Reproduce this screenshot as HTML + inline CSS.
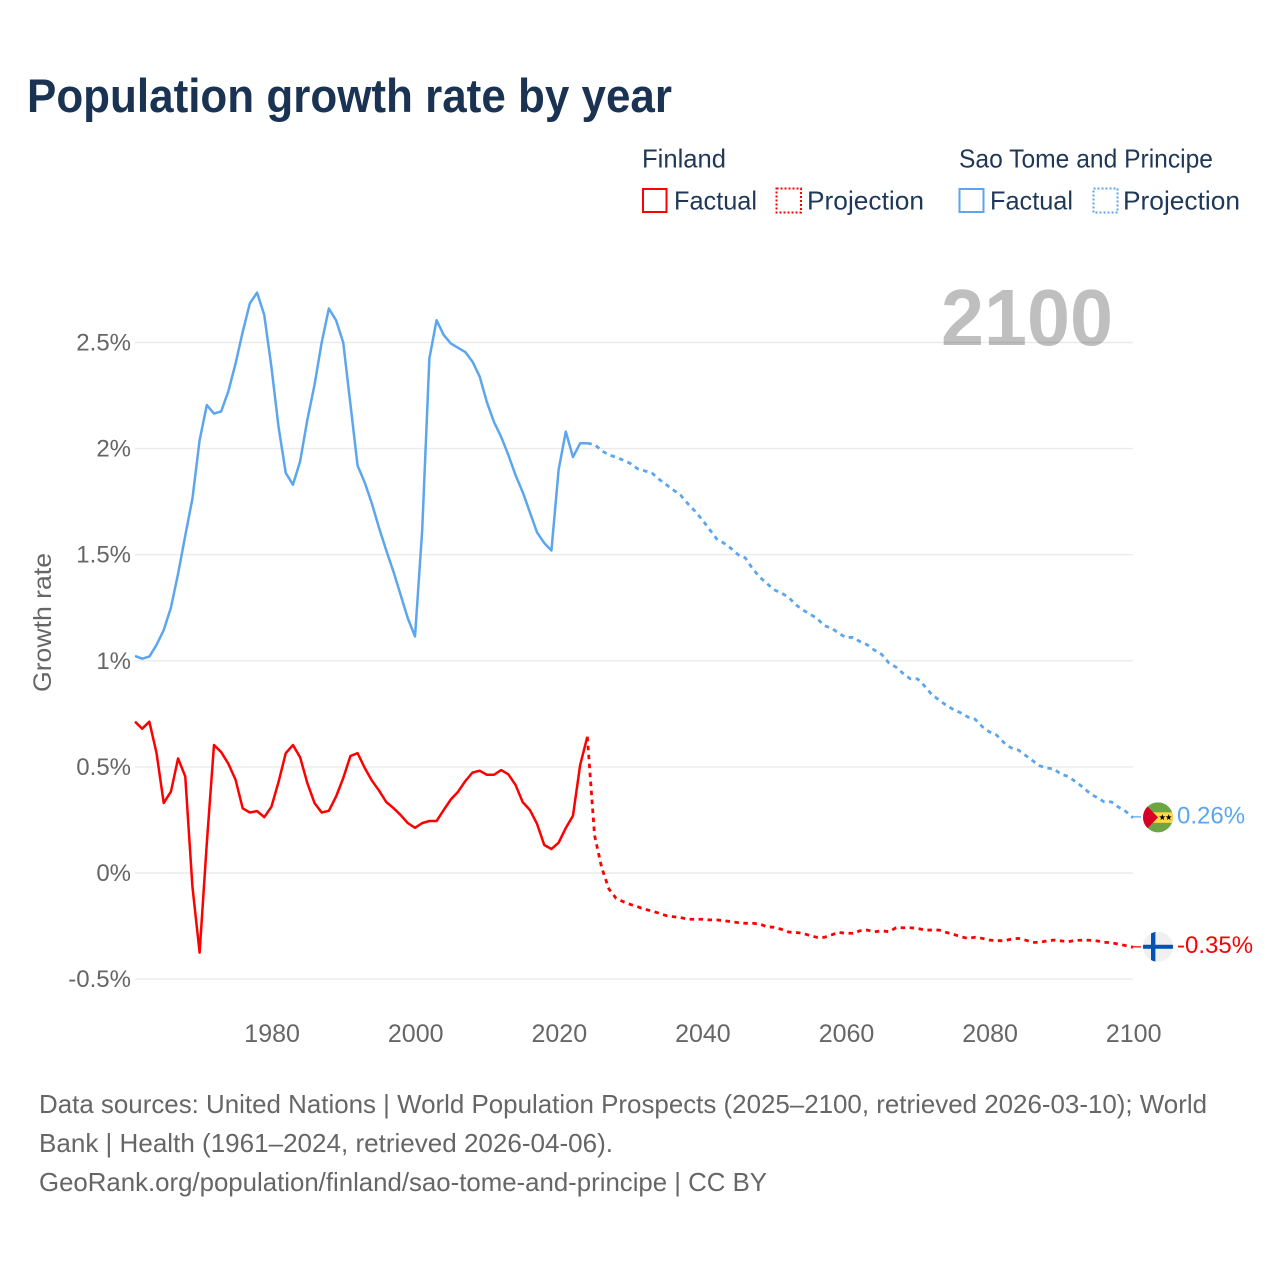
<!DOCTYPE html>
<html lang="en">
<head>
<meta charset="utf-8">
<title>Population growth rate by year</title>
<style>
  html, body { margin: 0; padding: 0; background: #ffffff; }
  svg { display: block; }
  text { font-family: "Liberation Sans", sans-serif; }
</style>
</head>
<body>
<svg id="chart" xmlns="http://www.w3.org/2000/svg" width="1280" height="1280" viewBox="0 0 1280 1280">
  <defs>
    <clipPath id="flag-clip-st"><circle id="flag-clip-st-circle" cx="1158" cy="817.5" r="15"></circle></clipPath>
    <clipPath id="flag-clip-fi"><circle id="flag-clip-fi-circle" cx="1158" cy="947" r="15"></circle></clipPath>
  </defs>
  <rect x="0" y="0" width="1280" height="1280" fill="#ffffff"></rect>

  <text x="27" y="112" font-size="47" font-weight="700" fill="#1a3353" textLength="645" lengthAdjust="spacingAndGlyphs">Population growth rate by year</text>

  <g font-size="26" fill="#1f3858">
    <text x="642" y="167.5" textLength="84" lengthAdjust="spacingAndGlyphs">Finland</text>
    <text x="959" y="167.5" textLength="254" lengthAdjust="spacingAndGlyphs">Sao Tome and Principe</text>

    <rect x="643" y="189" width="23.5" height="23" fill="none" stroke="#ff0000" stroke-width="2"></rect>
    <text x="674" y="209.5" textLength="83" lengthAdjust="spacingAndGlyphs">Factual</text>
    <rect x="776.5" y="188.5" width="24.5" height="24" fill="none" stroke="#ff0000" stroke-width="2" stroke-dasharray="2 2"></rect>
    <text x="807" y="209.5" textLength="117" lengthAdjust="spacingAndGlyphs">Projection</text>

    <rect x="959.5" y="189" width="24" height="23" fill="none" stroke="#5ba6ee" stroke-width="2"></rect>
    <text x="990" y="209.5" textLength="83" lengthAdjust="spacingAndGlyphs">Factual</text>
    <rect x="1093.5" y="188.5" width="24" height="24" fill="none" stroke="#5ba6ee" stroke-width="2" stroke-dasharray="2 2"></rect>
    <text x="1123" y="209.5" textLength="117" lengthAdjust="spacingAndGlyphs">Projection</text>
  </g>

  <g id="grid"></g>
  <g id="y-ticks"></g>
  <g id="x-ticks"></g>

  <text transform="translate(51,692) rotate(-90)" font-size="25" fill="#666666" textLength="139" lengthAdjust="spacingAndGlyphs">Growth rate</text>

  <text x="941" y="345" font-size="80" font-weight="700" fill="#000000" fill-opacity="0.25" textLength="172" lengthAdjust="spacingAndGlyphs">2100</text>

  <g id="series"></g>

  <g id="flag-st" clip-path="url(#flag-clip-st)">
    <rect x="1143" y="802" width="30" height="31" fill="#6da544"></rect>
    <rect x="1143" y="812.5" width="30" height="10.5" fill="#ffda44"></rect>
    <polygon points="1147,806 1158,817.5 1147,829 1141,829 1141,806" fill="#d80027"></polygon>
    <polygon points="1162.3,814.3 1163.1,816.6 1165.4,816.6 1163.5,818 1164.2,820.3 1162.3,818.9 1160.4,820.3 1161.1,818 1159.2,816.6 1161.5,816.6" fill="#000000"></polygon>
    <polygon points="1168.7,814.3 1169.5,816.6 1171.8,816.6 1169.9,818 1170.6,820.3 1168.7,818.9 1166.8,820.3 1167.5,818 1165.6,816.6 1167.9,816.6" fill="#000000"></polygon>
  </g>
  <g id="flag-fi" clip-path="url(#flag-clip-fi)">
    <rect x="1143" y="932" width="30" height="30" fill="#f0f0f0"></rect>
    <rect x="1151" y="932" width="4.4" height="30" fill="#0052b4"></rect>
    <rect x="1143" y="945" width="30" height="4" fill="#0052b4"></rect>
  </g>

  <g font-size="26" fill="#666666">
    <text x="39" y="1113" textLength="1168" lengthAdjust="spacingAndGlyphs">Data sources: United Nations | World Population Prospects (2025–2100, retrieved 2026-03-10); World</text>
    <text x="39" y="1152" textLength="574" lengthAdjust="spacingAndGlyphs">Bank | Health (1961–2024, retrieved 2026-04-06).</text>
    <text x="39" y="1191" textLength="728" lengthAdjust="spacingAndGlyphs">GeoRank.org/population/finland/sao-tome-and-principe | CC BY</text>
  </g>
</svg>

<script>
// Chart data (percent per year)
const factualStartYear = 1961;
const projectionStartYear = 2024;

const finlandFactual = [
  0.713, 0.68, 0.713, 0.565, 0.33, 0.383, 0.54, 0.455, -0.065, -0.375,
  0.14, 0.603, 0.57, 0.515, 0.44, 0.305, 0.285, 0.292, 0.263, 0.312,
  0.43, 0.565, 0.603, 0.545, 0.424, 0.33, 0.285, 0.293, 0.36, 0.447,
  0.551, 0.565, 0.495, 0.435, 0.388, 0.334, 0.306, 0.273, 0.235, 0.213,
  0.235, 0.245, 0.245, 0.297, 0.347, 0.383, 0.433, 0.473, 0.482, 0.463,
  0.463, 0.485, 0.465, 0.415, 0.334, 0.297, 0.231, 0.132, 0.113, 0.143,
  0.212, 0.27, 0.509, 0.642
];

const finlandProjection = [
  0.642, 0.179, 0.025, -0.075, -0.119, -0.135, -0.148, -0.159, -0.171, -0.179,
  -0.19, -0.201, -0.206, -0.21, -0.218, -0.218, -0.218, -0.221, -0.221, -0.225,
  -0.229, -0.234, -0.237, -0.237, -0.24, -0.253, -0.256, -0.265, -0.278, -0.28,
  -0.284, -0.295, -0.303, -0.303, -0.292, -0.28, -0.284, -0.284, -0.272, -0.269,
  -0.277, -0.272, -0.277, -0.258, -0.258, -0.258, -0.261, -0.269, -0.269, -0.269,
  -0.28, -0.289, -0.30, -0.308, -0.303, -0.308, -0.316, -0.319, -0.319, -0.312,
  -0.308, -0.316, -0.327, -0.327, -0.32, -0.316, -0.32, -0.324, -0.317, -0.317,
  -0.317, -0.32, -0.327, -0.328, -0.336, -0.342, -0.35
];

const saoTomeFactual = [
  1.023, 1.01, 1.02, 1.075, 1.145, 1.25, 1.41, 1.59, 1.765, 2.04,
  2.205, 2.165, 2.175, 2.27, 2.40, 2.55, 2.685, 2.735, 2.63, 2.385,
  2.10, 1.885, 1.83, 1.94, 2.135, 2.30, 2.50, 2.66, 2.605, 2.50,
  2.21, 1.92, 1.84, 1.74, 1.625, 1.52, 1.42, 1.31, 1.20, 1.115,
  1.615, 2.425, 2.605, 2.535, 2.495, 2.475, 2.455, 2.41, 2.34, 2.22,
  2.125, 2.055, 1.97, 1.875, 1.795, 1.70, 1.605, 1.555, 1.52, 1.90,
  2.08, 1.96, 2.025, 2.025
];

const saoTomeProjection = [
  2.025, 2.02, 1.99, 1.97, 1.96, 1.945, 1.93, 1.905, 1.895, 1.885,
  1.855, 1.83, 1.805, 1.78, 1.74, 1.705, 1.665, 1.62, 1.575, 1.555,
  1.53, 1.50, 1.485, 1.435, 1.395, 1.365, 1.335, 1.32, 1.30, 1.265,
  1.24, 1.22, 1.20, 1.165, 1.155, 1.13, 1.11, 1.11, 1.09, 1.075,
  1.05, 1.03, 0.99, 0.97, 0.94, 0.915, 0.915, 0.88, 0.84, 0.815,
  0.79, 0.77, 0.755, 0.735, 0.725, 0.69, 0.665, 0.65, 0.615, 0.59,
  0.58, 0.555, 0.53, 0.505, 0.495, 0.49, 0.465, 0.455, 0.43, 0.405,
  0.375, 0.355, 0.335, 0.335, 0.31, 0.29, 0.26
];

const yTickValues = [-0.5, 0, 0.5, 1, 1.5, 2, 2.5];
const yTickLabels = ['-0.5%', '0%', '0.5%', '1%', '1.5%', '2%', '2.5%'];
const xTickYears = [1980, 2000, 2020, 2040, 2060, 2080, 2100];
const endLabels = ['0.26%', '-0.35%'];

// Axis functions
const plotLeft = 135, plotRight = 1133;
const minYear = 1961, maxYear = 2100;
function xScale(year) {
  return plotLeft + (year - minYear) * (plotRight - plotLeft) / (maxYear - minYear);
}
function yScale(value) {
  return 873 - value * 212.2;
}

const SVG_NS = 'http://www.w3.org/2000/svg';
const gridGroup = document.getElementById('grid');
const yTickGroup = document.getElementById('y-ticks');
const xTickGroup = document.getElementById('x-ticks');
const seriesGroup = document.getElementById('series');

function buildPath(values, startYear) {
  let d = '';
  for (let i = 0; i < values.length; i++) {
    d += (i === 0 ? 'M' : 'L') + xScale(startYear + i).toFixed(2) + ' ' + yScale(values[i]).toFixed(2);
  }
  return d;
}

function addSeries(values, startYear, color, dash, name) {
  const path = document.createElementNS(SVG_NS, 'path');
  path.setAttribute('d', buildPath(values, startYear));
  path.setAttribute('fill', 'none');
  path.setAttribute('stroke', color);
  path.setAttribute('stroke-width', dash ? '2.8' : '2.5');
  path.setAttribute('stroke-linejoin', 'round');
  if (dash) path.setAttribute('stroke-dasharray', dash);
  
  
  seriesGroup.appendChild(path);
}

for (let i = 0; i < yTickValues.length; i++) {
  const line = document.createElementNS(SVG_NS, 'line');
  line.setAttribute('x1', plotLeft);
  line.setAttribute('x2', plotRight);
  line.setAttribute('y1', yScale(yTickValues[i]));
  line.setAttribute('y2', yScale(yTickValues[i]));
  line.setAttribute('stroke', '#ebebeb');
  line.setAttribute('stroke-width', '1.4');
  
  
  gridGroup.appendChild(line);

  const label = document.createElementNS(SVG_NS, 'text');
  label.setAttribute('x', 131);
  label.setAttribute('y', yScale(yTickValues[i]) + 8);
  label.setAttribute('text-anchor', 'end');
  label.setAttribute('font-size', '24');
  label.setAttribute('fill', '#666666');
  
  
  label.textContent = yTickLabels[i];
  yTickGroup.appendChild(label);
}

for (let i = 0; i < xTickYears.length; i++) {
  const label = document.createElementNS(SVG_NS, 'text');
  label.setAttribute('x', xScale(xTickYears[i]) + 0.7);
  label.setAttribute('y', 1042);
  label.setAttribute('text-anchor', 'middle');
  label.setAttribute('font-size', '25');
  label.setAttribute('fill', '#666666');
  
  
  label.textContent = xTickYears[i];
  xTickGroup.appendChild(label);
}

addSeries(saoTomeFactual, factualStartYear, '#5ba6ee', null, 'sao-tome-factual-line');
addSeries(saoTomeProjection, projectionStartYear, '#5ba6ee', '4.5 4.5', 'sao-tome-projection-line');
addSeries(finlandFactual, factualStartYear, '#ff0000', null, 'finland-factual-line');
addSeries(finlandProjection, projectionStartYear, '#ff0000', '4.5 4.5', 'finland-projection-line');

// End-of-line connectors, flags and value labels follow the last projected value
const saoEndY = yScale(saoTomeProjection[saoTomeProjection.length - 1]);
const finEndY = yScale(finlandProjection[finlandProjection.length - 1]);

function addConnector(y, color, name) {
  const line = document.createElementNS(SVG_NS, 'line');
  line.setAttribute('x1', plotRight);
  line.setAttribute('x2', plotRight + 8);
  line.setAttribute('y1', y);
  line.setAttribute('y2', y);
  line.setAttribute('stroke', color);
  line.setAttribute('stroke-width', '1.6');
  line.setAttribute('stroke-opacity', '0.8');
  
  
  seriesGroup.appendChild(line);
}
addConnector(saoEndY - 1, '#5ba6ee', 'sao-tome-end-connector');
addConnector(finEndY - 0.5, '#ff0000', 'finland-end-connector');

function addEndLabel(text, y, color, name) {
  const label = document.createElementNS(SVG_NS, 'text');
  label.setAttribute('x', 1177);
  label.setAttribute('y', y + 5.5);
  label.setAttribute('font-size', '24');
  label.setAttribute('fill', color);
  
  
  label.textContent = text;
  document.getElementById('chart').appendChild(label);
}
addEndLabel(endLabels[0], saoEndY, '#5ba6ee', 'sao-tome-end-label');
addEndLabel(endLabels[1], finEndY, '#ff0000', 'finland-end-label');

document.getElementById('flag-st').setAttribute('transform', 'translate(0,' + (saoEndY - 818).toFixed(2) + ')');
document.getElementById('flag-fi').setAttribute('transform', 'translate(0,' + (finEndY - 947.5).toFixed(2) + ')');
</script>
</body>
</html>
